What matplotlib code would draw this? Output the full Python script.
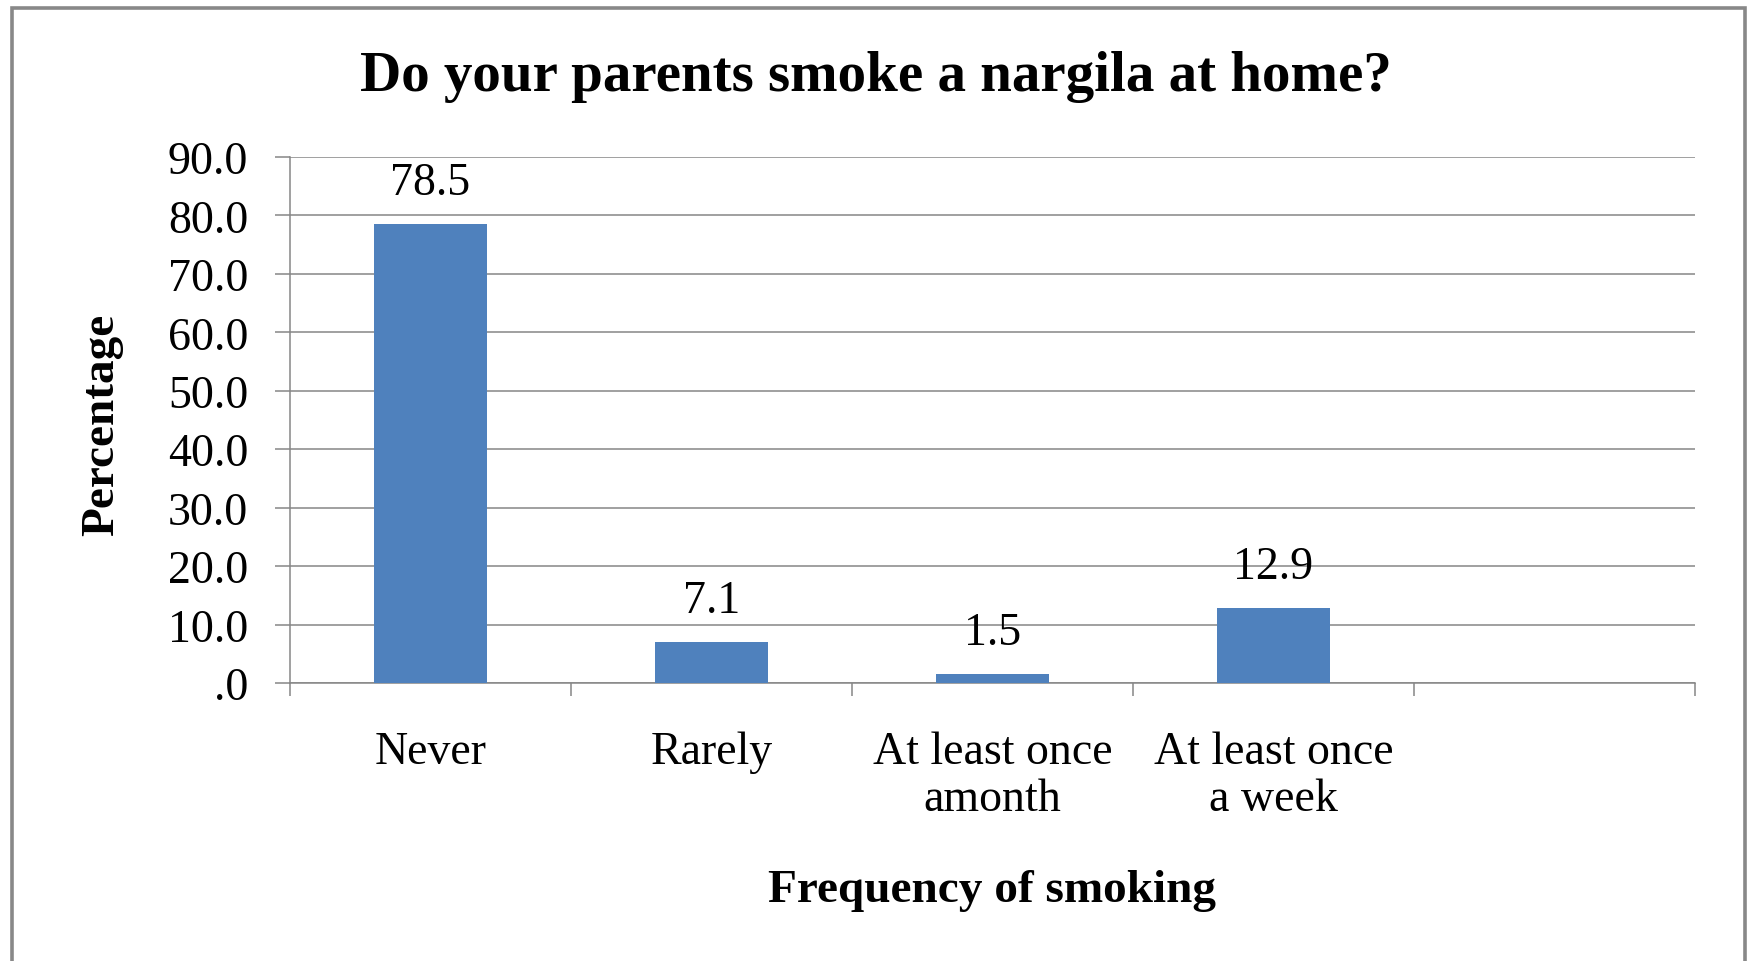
import matplotlib
matplotlib.use("Agg")
import matplotlib.pyplot as plt
import numpy as np
from matplotlib.patches import Rectangle

# data
categories = ["Never", "Rarely", "At least once\namonth", "At least once\na week", ""]
values = [78.5, 7.1, 1.5, 12.9, None]
yticks = [0, 10, 20, 30, 40, 50, 60, 70, 80, 90]
ytick_labels = [".0", "10.0", "20.0", "30.0", "40.0", "50.0", "60.0", "70.0", "80.0", "90.0"]

title = "Do your parents smoke a nargila at home?"
xlabel = "Frequency of smoking"
ylabel = "Percentage"

W, H = 1753, 962
plt.rcParams["font.family"] = ["Liberation Serif", "DejaVu Serif"]

fig = plt.figure(figsize=(W / 100, H / 100), dpi=100)
fig.patch.set_facecolor("white")

# axes box in pixels: left 290, right 1695, top 158, bottom 684
ax = fig.add_axes([290 / W, 1 - 684 / H, (1695 - 290) / W, (684 - 158) / H])

grey = "#868686"
bar_color = "#4F81BD"

x = np.arange(len(categories))
for xi, v in zip(x, values):
    if v is None:
        continue
    ax.bar(xi, v, width=0.4, color=bar_color, zorder=3)
    ax.annotate(f"{v:.1f}", (xi, v), xytext=(0, 21.5), textcoords="offset points",
                ha="center", va="baseline", fontsize=33, color="black")

ax.set_xlim(-0.5, len(categories) - 0.5)
ax.set_ylim(0, 90)

ax.set_yticks(yticks)
ax.set_yticklabels(ytick_labels)
ax.yaxis.grid(True, color=grey, linewidth=1.1, zorder=0)
ax.set_axisbelow(True)

ax.set_xticks(x)
ax.set_xticklabels(categories, linespacing=1.12)
ax.set_xticks(np.arange(len(categories) + 1) - 0.5, minor=True)

ax.tick_params(axis="y", labelsize=33, length=10.8, width=1.1, color=grey, pad=19.4, direction="out")
ax.tick_params(axis="x", which="major", labelsize=33, length=0, pad=34.5)
ax.tick_params(axis="x", which="minor", length=9.4, width=1.1, color=grey, direction="out")

for side in ["top", "right"]:
    ax.spines[side].set_visible(False)
for side in ["left", "bottom"]:
    ax.spines[side].set_color(grey)
    ax.spines[side].set_linewidth(1.1)

# titles placed in figure pixels
fig.text(876 / W, 1 - 91 / H, title, ha="center", va="baseline",
         fontsize=41, fontweight="bold")
fig.text(992 / W, 1 - 902 / H, xlabel, ha="center", va="baseline",
         fontsize=34, fontweight="bold")
fig.text(102 / W, 1 - 425 / H, ylabel, ha="center", va="center", rotation=90,
         fontsize=34, fontweight="bold")

# outer frame, open at the bottom edge
fig.patches.append(Rectangle((12 / W, -0.05), (1745 - 12) / W, 1.05 - 9 / H,
                             transform=fig.transFigure, fill=False,
                             edgecolor="#888888", linewidth=2.6))

fig.savefig("out.png", dpi=100)
